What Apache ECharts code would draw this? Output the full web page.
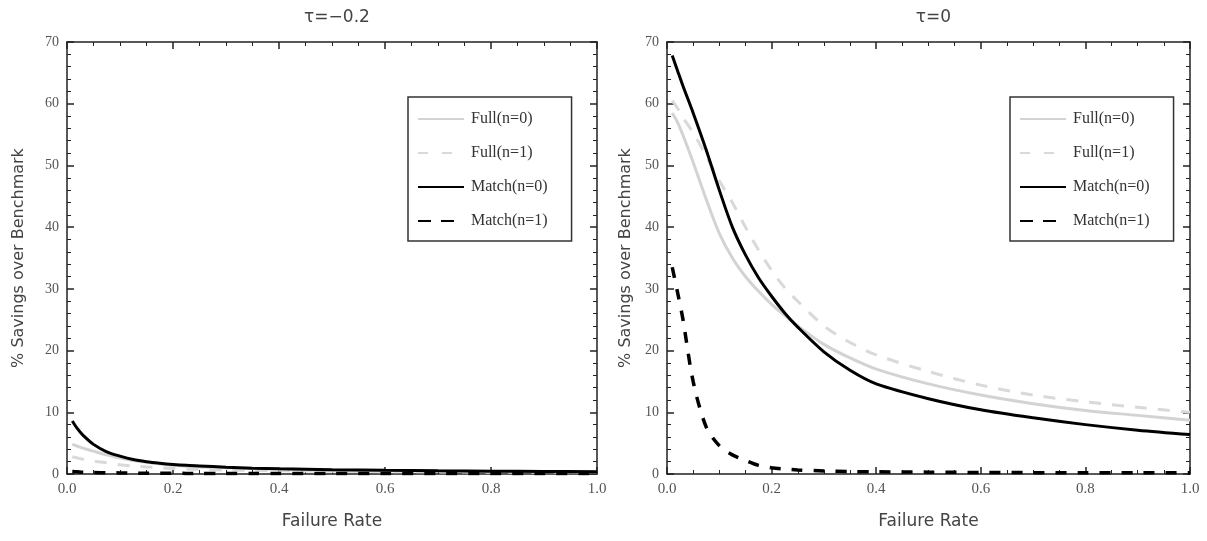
<!DOCTYPE html>
<html>
<head>
<meta charset="utf-8">
<script src="https://cdn.jsdelivr.net/npm/echarts@6/dist/echarts.min.js"></script>
<style>
html,body{margin:0;padding:0;background:#fff;}
#chart{width:1207px;height:541px;}
</style>
</head>
<body>
<div id="chart"></div>
<script>
// ---- data ----
const failureRate = [0.01, 0.02, 0.03, 0.05, 0.075, 0.1, 0.125, 0.15, 0.175, 0.2, 0.225, 0.25, 0.3, 0.35, 0.4, 0.5, 0.6, 0.7, 0.8, 0.9, 1.0];
const seriesNames = ['Full(n=0)', 'Full(n=1)', 'Match(n=0)', 'Match(n=1)'];
const panelTitles = ['τ=−0.2', 'τ=0'];
const xTickLabels = ['0.0', '0.2', '0.4', '0.6', '0.8', '1.0'];
const yTickLabels = ['0', '10', '20', '30', '40', '50', '60', '70'];

// tau = -0.2
const left_full0  = [4.8, 4.5, 4.2, 3.7, 3.1, 2.6, 2.2, 1.9, 1.6, 1.4, 1.25, 1.15, 1.0, 0.88, 0.8, 0.66, 0.56, 0.49, 0.43, 0.39, 0.35];
const left_full1  = [2.8, 2.6, 2.4, 2.1, 1.8, 1.5, 1.3, 1.15, 1.0, 0.9, 0.82, 0.75, 0.65, 0.58, 0.52, 0.44, 0.38, 0.34, 0.3, 0.28, 0.26];
const left_match0 = [8.6, 7.3, 6.3, 4.8, 3.6, 2.9, 2.35, 2.0, 1.75, 1.55, 1.4, 1.3, 1.1, 0.95, 0.85, 0.7, 0.6, 0.52, 0.46, 0.42, 0.38];
const left_match1 = [0.4, 0.35, 0.3, 0.25, 0.2, 0.18, 0.15, 0.13, 0.12, 0.11, 0.1, 0.1, 0.1, 0.1, 0.1, 0.1, 0.1, 0.1, 0.1, 0.1, 0.1];

// tau = 0
const right_full0  = [58.5, 57.0, 55.0, 50.5, 44.5, 39.0, 35.0, 32.0, 29.6, 27.5, 25.7, 24.0, 21.0, 18.8, 17.0, 14.6, 12.8, 11.4, 10.3, 9.5, 8.7];
const right_full1  = [60.5, 59.3, 57.8, 55.3, 51.5, 47.5, 44.0, 40.0, 36.3, 33.0, 30.2, 28.0, 24.0, 21.3, 19.3, 16.6, 14.4, 12.8, 11.7, 10.8, 10.0];
const right_match0 = [67.8, 65.4, 63.0, 58.5, 52.5, 46.0, 40.0, 35.5, 31.8, 28.8, 26.1, 23.8, 19.8, 16.8, 14.6, 12.2, 10.4, 9.1, 8.0, 7.1, 6.4];
const right_match1 = [33.5, 29.5, 25.3, 15.0, 7.6, 4.6, 3.1, 2.2, 1.4, 1.0, 0.8, 0.65, 0.5, 0.4, 0.35, 0.3, 0.25, 0.22, 0.2, 0.2, 0.2];

const panels = [
  {full0: left_full0, full1: left_full1, match0: left_match0, match1: left_match1},
  {full0: right_full0, full1: right_full1, match0: right_match0, match1: right_match1}
];

// ---- layout ----
const grids = [
  {left: 67, top: 42, width: 530, height: 432},
  {left: 667, top: 42, width: 523, height: 432}
];
const legendPos = [{left: 408, top: 97}, {left: 1010, top: 97}];
const yNameGap = [40, 33];

const serifFont = '"Liberation Serif", "DejaVu Serif", serif';
const sansFont = '"DejaVu Sans", Verdana, sans-serif';
const frameColor = '#222';

const styles = [
  {color: '#d3d3d3', width: 3, type: 'solid'},
  {color: '#d9d9d9', width: 3, type: [12, 11]},
  {color: '#000000', width: 3, type: 'solid'},
  {color: '#000000', width: 3.5, type: [11, 11]}
];
const legendDash = [null, [10, 14], null, [13, 10]];

function pairs(ys) { return failureRate.map((x, i) => [x, ys[i]]); }

const xAxes = [], yAxes = [], series = [], titles = [], legends = [];
grids.forEach((g, gi) => {
  const tickBase = {show: true, inside: true, length: 7, lineStyle: {color: frameColor, width: 1.5}};
  const minorBase = {show: true, splitNumber: 4, length: 4, lineStyle: {color: frameColor, width: 1}};
  xAxes.push({
    type: 'value', gridIndex: gi, min: 0, max: 1, interval: 0.2, position: 'bottom',
    name: 'Failure Rate', nameLocation: 'middle', nameGap: 39,
    nameTextStyle: {fontFamily: sansFont, fontSize: 17, color: '#444'},
    axisLine: {show: true, onZero: false, lineStyle: {color: frameColor, width: 1.5}},
    axisTick: tickBase,
    minorTick: minorBase,
    splitLine: {show: false},
    axisLabel: {fontFamily: serifFont, fontSize: 15, color: '#555', margin: 8,
      formatter: v => xTickLabels[Math.round(v / 0.2)]}
  });
  xAxes.push({
    type: 'value', gridIndex: gi, min: 0, max: 1, interval: 0.2, position: 'top',
    axisLine: {show: true, onZero: false, lineStyle: {color: frameColor, width: 1.5}},
    axisTick: tickBase, minorTick: minorBase,
    splitLine: {show: false}, axisLabel: {show: false}
  });
  const yMinor = {show: true, splitNumber: 5, length: 4, lineStyle: {color: frameColor, width: 1}};
  yAxes.push({
    type: 'value', gridIndex: gi, min: 0, max: 70, interval: 10, position: 'left',
    name: '% Savings over Benchmark', nameLocation: 'middle', nameGap: yNameGap[gi],
    nameTextStyle: {fontFamily: sansFont, fontSize: 16, color: '#444'},
    axisLine: {show: true, onZero: false, lineStyle: {color: frameColor, width: 1.5}},
    axisTick: tickBase, minorTick: yMinor,
    splitLine: {show: false},
    axisLabel: {fontFamily: serifFont, fontSize: 14, color: '#555', margin: 8,
      formatter: v => yTickLabels[Math.round(v / 10)]}
  });
  yAxes.push({
    type: 'value', gridIndex: gi, min: 0, max: 70, interval: 10, position: 'right',
    axisLine: {show: true, onZero: false, lineStyle: {color: frameColor, width: 1.5}},
    axisTick: tickBase, minorTick: yMinor,
    splitLine: {show: false}, axisLabel: {show: false}
  });
  const p = panels[gi];
  const data = [p.full0, p.full1, p.match0, p.match1];
  data.forEach((ys, si) => {
    series.push({
      type: 'line', name: seriesNames[si], xAxisIndex: gi * 2, yAxisIndex: gi * 2,
      data: pairs(ys), showSymbol: false, symbol: 'none', smooth: 0.3,
      clip: true, z: [1, 2, 4, 3][si],
      lineStyle: {color: styles[si].color, width: styles[si].width, type: styles[si].type},
      itemStyle: {color: styles[si].color}
    });
  });
  titles.push({
    text: panelTitles[gi], left: g.left + g.width / 2, top: 4, textAlign: 'center',
    textStyle: {fontFamily: sansFont, fontSize: 17, fontWeight: 'normal', color: '#444'}
  });
  legends.push({
    show: true, orient: 'vertical', left: legendPos[gi].left, top: legendPos[gi].top,
    data: seriesNames.map((n, i) => legendDash[i]
      ? {name: n, lineStyle: {type: legendDash[i]}}
      : {name: n}),
    selectedMode: false,
    backgroundColor: '#fff', borderColor: '#333', borderWidth: 1.5, borderRadius: 0,
    padding: [14, 24, 12, 9], itemWidth: 46, itemHeight: 14, itemGap: 18,
    itemStyle: {opacity: 0},
    textStyle: {fontFamily: serifFont, fontSize: 16, color: '#333', padding: [0, 0, 0, 2]}
  });
});

const chart = echarts.init(document.getElementById('chart'), null, {renderer: 'canvas'});
chart.setOption({
  animation: false,
  backgroundColor: '#fff',
  title: titles,
  legend: legends,
  grid: grids,
  xAxis: xAxes,
  yAxis: yAxes,
  series: series
});
</script>
</body>
</html>
